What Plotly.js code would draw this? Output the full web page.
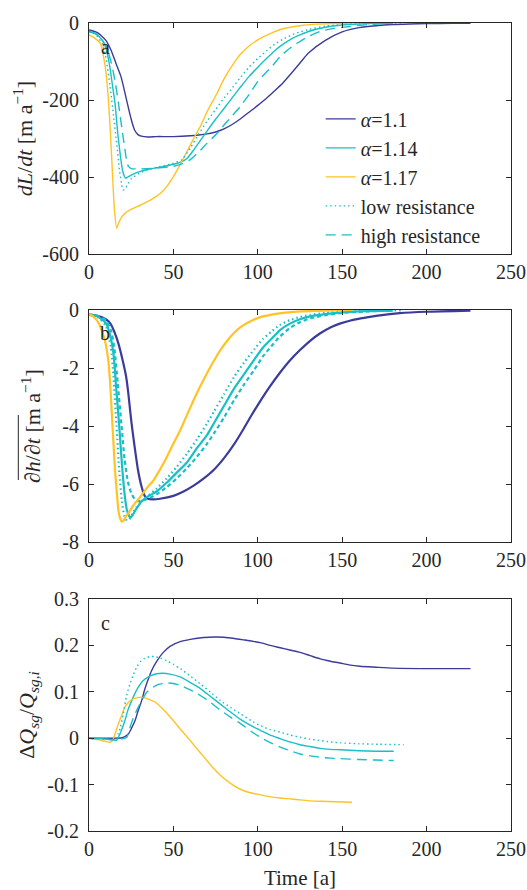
<!DOCTYPE html>
<html>
<head>
<meta charset="utf-8">
<script src="https://cdn.plot.ly/plotly-3.0.1.min.js"></script>
<style>html,body{margin:0;padding:0;background:#fff;}#chart{width:527px;height:890px;}</style>
</head>
<body>
<div id="chart"></div>
<script>
// ---------- Panel a: dL/dt [m a^-1] ----------
const a_blue_t = [0,5,10,13,16,19,22,25,27,29,31,35,40,50,60,65,70,75,80,85,90,95,100,105,110,115,120,125,130,140,150,160,170,180,190,200,215,226];
const a_blue_y = [-18,-25,-45,-70,-105,-140,-195,-250,-278,-290,-294,-296,-295,-295,-293,-291,-288,-283,-275,-263,-248,-231,-214,-196,-176,-155,-130,-104,-78,-45,-23,-12,-7,-4,-2.5,-1.5,-1,-0.5];

const a_cyan_t = [0,4,8,10,12,14,15.4,17,18.4,20,21.7,23,25,30,35,40,45,50,55,58,62,66,70,75,80,85,90,95,100,105,110,115,120,125,130,140,150,160,170,180];
const a_cyan_y = [-22,-28,-45,-65,-105,-165,-208,-285,-338,-385,-403,-400,-395,-386,-380,-376,-372,-367,-360,-352,-330,-305,-280,-250,-222,-193,-165,-138,-115,-93,-72,-55,-41,-31,-22,-11,-5,-2.5,-1,-0.5];

const a_low_t = [0,4,8,10,12.5,14.5,16.5,18,19.4,20.3,21.5,23,25,30,35,40,45,50,55,60,65,70,75,80,85,90,95,100,105,110,115,120,125,130,140,150,160,170,185];
const a_low_y = [-22,-30,-55,-90,-165,-240,-317,-380,-420,-434,-430,-418,-405,-390,-381,-375,-370,-364,-355,-325,-288,-255,-225,-195,-168,-140,-114,-92,-73,-55,-42,-31,-23,-17,-8,-4,-2,-1,-0.5];

const a_high_t = [0,5,10,13,15.4,17.5,19.4,21,22,23.3,25,30,40,50,55,60,65,70,75.8,80,85,89.6,95,100,105,107.4,113.3,120,125,130,136.8,145,154.6,165,180];
const a_high_y = [-22,-30,-60,-100,-150,-210,-271,-320,-349,-372,-378,-379,-377,-372,-366,-355,-335,-312,-287,-265,-240,-217,-185,-152,-128,-118,-87,-62,-48,-35,-22,-14,-9,-4,-1];

const a_yel_t = [0,3,6.7,9.5,11,12.5,14,15,16.4,17.5,19.5,22,26.4,30,36.3,42.2,46,50,54,58,62,65.9,70,75.8,80,85.7,90,95.6,101.5,107,115,125,135,145,156];
const a_yel_y = [-31,-38,-53,-110,-170,-270,-400,-480,-533,-520,-503,-492,-481,-474,-460,-443,-425,-399,-368,-334,-300,-269,-230,-183,-145,-105,-80,-57,-40,-28,-15,-7,-3,-1.5,-0.5];

// ---------- Panel b: mean dh/dt [m a^-1] ----------
const b_blue_t = [0,5,10,12.6,15,17.4,20,22,23.3,25,27,29,31,33,35,38,42,50,56,62,68,74,80,86,91,96,101,107,113,119,125,131,137,143,149,155,161,170,184,200,226];
const b_blue_y = [-0.17,-0.2,-0.32,-0.46,-0.75,-1.15,-1.75,-2.3,-2.87,-3.8,-4.7,-5.5,-6.05,-6.4,-6.5,-6.52,-6.5,-6.4,-6.25,-6.05,-5.8,-5.5,-5.1,-4.62,-4.15,-3.65,-3.18,-2.65,-2.17,-1.74,-1.38,-1.06,-0.8,-0.6,-0.46,-0.36,-0.29,-0.2,-0.11,-0.06,-0.02];

const b_cyan_t = [0,5,10,12,14.5,16,17.9,19.5,21,22.5,24.5,26,28,31,34,40,46,52,58,64,70,74,80,86,92,98,103,108,113,119,125,131,140,150,165,180];
const b_cyan_y = [-0.15,-0.22,-0.45,-0.75,-1.5,-2.6,-4.0,-5.3,-6.3,-6.9,-7.15,-7.05,-6.85,-6.6,-6.45,-6.25,-5.95,-5.6,-5.25,-4.75,-4.3,-3.9,-3.3,-2.7,-2.2,-1.7,-1.3,-1.0,-0.7,-0.47,-0.32,-0.22,-0.14,-0.08,-0.04,-0.02];

const b_low_t = [0,5,10,13,14.5,16.3,18,19.5,21,22.5,24,26,28,31,35,40,46,52,58,64,70,74,80,86,92,98,103,108,113,119,125,131,140,150,165,185];
const b_low_y = [-0.15,-0.24,-0.55,-1.3,-2.3,-4.0,-5.6,-6.6,-7.1,-7.25,-7.2,-7.0,-6.8,-6.6,-6.4,-6.15,-5.8,-5.4,-4.95,-4.45,-3.9,-3.5,-2.9,-2.3,-1.8,-1.35,-1.0,-0.75,-0.52,-0.35,-0.24,-0.17,-0.1,-0.06,-0.03,-0.01];

const b_high_t = [0,5,10,13,15,17,19.3,21,23,25,27,29,31,34,40,46,52,58,64,70,74,80,86,92,98,103,108,113,119,125,131,140,150,165,180];
const b_high_y = [-0.15,-0.2,-0.35,-0.7,-1.3,-2.5,-4.0,-5.1,-5.9,-6.3,-6.5,-6.58,-6.57,-6.52,-6.35,-6.1,-5.8,-5.45,-5.05,-4.6,-4.25,-3.7,-3.1,-2.55,-2.05,-1.6,-1.25,-0.92,-0.62,-0.42,-0.29,-0.18,-0.1,-0.05,-0.02];

const b_yel_t = [0,3,5.8,8.8,10,11.4,12.5,13.4,14.5,15.4,16.5,17.4,18.3,19.4,20.5,22,23.3,26,30.4,34,38.3,42,46.2,50,54.1,58,62,66,69.9,74,77.8,82,85.7,90,97.5,103,107.4,115,125,140,156];
const b_yel_y = [-0.14,-0.25,-0.46,-0.92,-1.2,-1.72,-2.5,-3.44,-4.6,-5.5,-6.3,-6.89,-7.15,-7.29,-7.25,-7.1,-7.0,-6.75,-6.43,-6.15,-5.86,-5.5,-5.05,-4.6,-4.13,-3.62,-3.1,-2.62,-2.18,-1.75,-1.38,-1.05,-0.8,-0.58,-0.34,-0.22,-0.17,-0.1,-0.05,-0.02,0];

// ---------- Panel c: dQsg/Qsg,i ----------
const c_blue_t = [0,10,15,19.4,21,23.3,25,27.3,29,31.2,33,35.2,37,40,44,48,54,60,68,75.8,84,91.6,101.5,107.4,113.3,119,125,131,137,143,148.7,154,160.5,170,180.3,200,226];
const c_blue_y = [0,0,0,0.001,0.003,0.009,0.02,0.038,0.058,0.081,0.105,0.128,0.145,0.165,0.185,0.198,0.208,0.213,0.217,0.218,0.216,0.212,0.206,0.2,0.195,0.19,0.185,0.178,0.171,0.166,0.162,0.158,0.155,0.153,0.151,0.15,0.15];

const c_cyan_t = [0,10,14,16.5,17.4,19,21.3,23,25.3,27,29.2,32,36,40,44,48,54,60,66,72,78,84,90,96,101.5,107,113.3,119,125,131,137,143,149,160,170,180.5];
const c_cyan_y = [0,-0.002,-0.004,-0.004,0.002,0.015,0.038,0.06,0.081,0.095,0.11,0.124,0.134,0.139,0.14,0.138,0.132,0.12,0.107,0.09,0.073,0.056,0.04,0.027,0.017,0.007,-0.001,-0.008,-0.014,-0.018,-0.022,-0.024,-0.025,-0.027,-0.028,-0.028];

const c_low_t = [0,10,15,17.4,18.5,20.3,22.3,24.3,26.4,28.5,30.4,33,36.3,39,42.2,46,50,54.1,60,66,72,78,84,90,96,101.5,107,113.3,119,125,131,137,143,149,160,172,186.4];
const c_low_y = [0,-0.002,-0.003,0.01,0.022,0.052,0.092,0.117,0.138,0.155,0.165,0.172,0.176,0.176,0.173,0.167,0.159,0.15,0.134,0.117,0.099,0.081,0.066,0.052,0.038,0.027,0.019,0.013,0.007,0.002,-0.002,-0.005,-0.008,-0.01,-0.012,-0.013,-0.014];

const c_high_t = [0,10,15,19,22.4,24,26.4,28,29.2,31,34.2,37,41.1,44.2,47,50,54,60,66,72,78,84,90,96,101.5,107,113.3,119,125,131,137,143,149,160,170,180.5];
const c_high_y = [0,-0.002,-0.003,-0.002,0.002,0.02,0.045,0.058,0.067,0.08,0.099,0.108,0.116,0.118,0.119,0.118,0.114,0.104,0.092,0.077,0.06,0.045,0.031,0.015,0.002,-0.009,-0.019,-0.027,-0.034,-0.038,-0.041,-0.043,-0.044,-0.046,-0.047,-0.048];

const c_yel_t = [0,5,10,12.4,14,15.5,17.4,19.4,21.3,23.3,25.3,28,31.2,34,39.1,44,49,54,59,64,68.9,74,77.8,84,89.6,95,101.5,107,113.3,120,125,131,137,146,155.8];
const c_yel_y = [0,-0.003,-0.007,-0.0086,-0.005,0.01,0.031,0.05,0.067,0.077,0.083,0.087,0.0885,0.086,0.078,0.062,0.042,0.02,-0.001,-0.023,-0.044,-0.066,-0.08,-0.098,-0.11,-0.117,-0.122,-0.126,-0.129,-0.131,-0.133,-0.135,-0.136,-0.137,-0.138];

// ---------- labels ----------
const legendNames = ['<i>α</i>=1.1','<i>α</i>=1.14','<i>α</i>=1.17','low resistance','high resistance'];
const xTicks = [0,50,100,150,200,250];
const xTickText = ['0','50','100','150','200','250'];
const aTicks = [0,-200,-400,-600];
const aTickText = ['0','-200','-400','-600'];
const bTicks = [0,-2,-4,-6,-8];
const bTickText = ['0','-2','-4','-6','-8'];
const cTicks = [0.3,0.2,0.1,0,-0.1,-0.2];
const cTickText = ['0.3','0.2','0.1','0','-0.1','-0.2'];

const BLUE = '#3b3b9c', CYAN = '#19bfc7', YEL = '#ffc325';
const AX = '#262626';
const FONT = 'Liberation Serif, DejaVu Serif, serif';
const TF = 20;   // tick font
const YT = 22;   // y-title font

function tr(x, y, color, dash, w, xa, ya, name, show) {
  return {x: x, y: y, type: 'scatter', mode: 'lines', xaxis: xa, yaxis: ya,
    line: {color: color, width: w, dash: dash, shape: 'spline', smoothing: 0.6}, name: name, showlegend: show,
    legendgroup: name, hoverinfo: 'skip'};
}
const DOT = '1.5px,3px', DASH = '10px,6px';
const data = [
  tr(a_blue_t, a_blue_y, BLUE, 'solid', 1.4, 'x', 'y', legendNames[0], true),
  tr(a_cyan_t, a_cyan_y, CYAN, 'solid', 1.4, 'x', 'y', legendNames[1], true),
  tr(a_yel_t, a_yel_y, YEL, 'solid', 1.4, 'x', 'y', legendNames[2], true),
  tr(a_low_t, a_low_y, CYAN, DOT, 1.4, 'x', 'y', legendNames[3], true),
  tr(a_high_t, a_high_y, CYAN, DASH, 1.4, 'x', 'y', legendNames[4], true),

  tr(b_blue_t, b_blue_y, BLUE, 'solid', 2.2, 'x2', 'y2', legendNames[0], false),
  tr(b_low_t, b_low_y, CYAN, DOT, 2.2, 'x2', 'y2', legendNames[3], false),
  tr(b_high_t, b_high_y, CYAN, '4px,3px', 2.2, 'x2', 'y2', legendNames[4], false),
  tr(b_cyan_t, b_cyan_y, CYAN, 'solid', 2.2, 'x2', 'y2', legendNames[1], false),
  tr(b_yel_t, b_yel_y, YEL, 'solid', 2.2, 'x2', 'y2', legendNames[2], false),

  tr(c_blue_t, c_blue_y, BLUE, 'solid', 1.4, 'x3', 'y3', legendNames[0], false),
  tr(c_cyan_t, c_cyan_y, CYAN, 'solid', 1.4, 'x3', 'y3', legendNames[1], false),
  tr(c_yel_t, c_yel_y, YEL, 'solid', 1.4, 'x3', 'y3', legendNames[2], false),
  tr(c_low_t, c_low_y, CYAN, DOT, 1.4, 'x3', 'y3', legendNames[3], false),
  tr(c_high_t, c_high_y, CYAN, DASH, 1.4, 'x3', 'y3', legendNames[4], false)
];

function xax(anchor, title) {
  const o = {anchor: anchor, range: [0, 250], tickmode: 'array', tickvals: xTicks, ticktext: xTickText,
    ticks: 'inside', ticklen: 5, tickcolor: AX, showline: true, linecolor: AX, linewidth: 1,
    mirror: 'ticks', showgrid: false, zeroline: false, tickfont: {size: TF, color: AX}, fixedrange: true};
  if (title) o.title = {text: title, font: {size: 21, color: AX}, standoff: 12};
  return o;
}
function yax(anchor, dom, range, tv, tt, title, so) {
  return {anchor: anchor, domain: dom, range: range, tickmode: 'array', tickvals: tv, ticktext: tt,
    ticks: 'inside', ticklen: 5, tickcolor: AX, showline: true, linecolor: AX, linewidth: 1,
    mirror: 'ticks', showgrid: false, zeroline: false, tickfont: {size: TF, color: AX},
    ticklabelstandoff: 5,
    title: {text: title, font: {size: YT, color: AX}, standoff: so}, fixedrange: true};
}

const layout = {
  width: 527, height: 890,
  margin: {l: 89, r: 16, t: 23, b: 59},
  paper_bgcolor: '#fff', plot_bgcolor: '#fff',
  font: {family: FONT, size: TF, color: AX},
  showlegend: true,
  legend: {x: 0.549, y: 0.9055, xanchor: 'left', yanchor: 'top', bgcolor: 'rgba(0,0,0,0)',
    font: {size: 20, color: AX}, tracegroupgap: 0, itemwidth: 30},
  xaxis: xax('y'),
  xaxis2: xax('y2'),
  xaxis3: xax('y3', 'Time [a]'),
  yaxis: yax('x', [0.7141, 1], [-600, 0], aTicks, aTickText, '<i>dL</i>/<i>dt</i> [m a<sup>−1</sup>]', 3),
  yaxis2: yax('x2', [0.3573, 0.6448], [-8, 0], bTicks, bTickText, '∂<i>h</i>/∂<i>t</i> [m a<sup>−1</sup>]', 15),
  yaxis3: yax('x3', [0, 0.2871], [-0.2, 0.3], cTicks, cTickText, 'Δ<i>Q</i><sub><i>sg</i></sub>/<i>Q</i><sub><i>sg,i</i></sub>', 6),
  annotations: [
    {text: 'a', xref: 'paper', yref: 'paper', x: 0.038, y: 0.9707, xanchor: 'center', yanchor: 'middle', showarrow: false, font: {size: TF, color: AX}},
    {text: 'b', xref: 'paper', yref: 'paper', x: 0.038, y: 0.616, xanchor: 'center', yanchor: 'middle', showarrow: false, font: {size: TF, color: AX}},
    {text: 'c', xref: 'paper', yref: 'paper', x: 0.038, y: 0.257, xanchor: 'center', yanchor: 'middle', showarrow: false, font: {size: TF, color: AX}}
  ],
  shapes: [
    {type: 'line', xref: 'paper', yref: 'paper', x0: -0.1675, x1: -0.1675, y0: 0.4344, y1: 0.5149,
     line: {color: AX, width: 1}}
  ]
};

Plotly.newPlot('chart', data, layout, {displayModeBar: false, staticPlot: true});
</script>
</body>
</html>
